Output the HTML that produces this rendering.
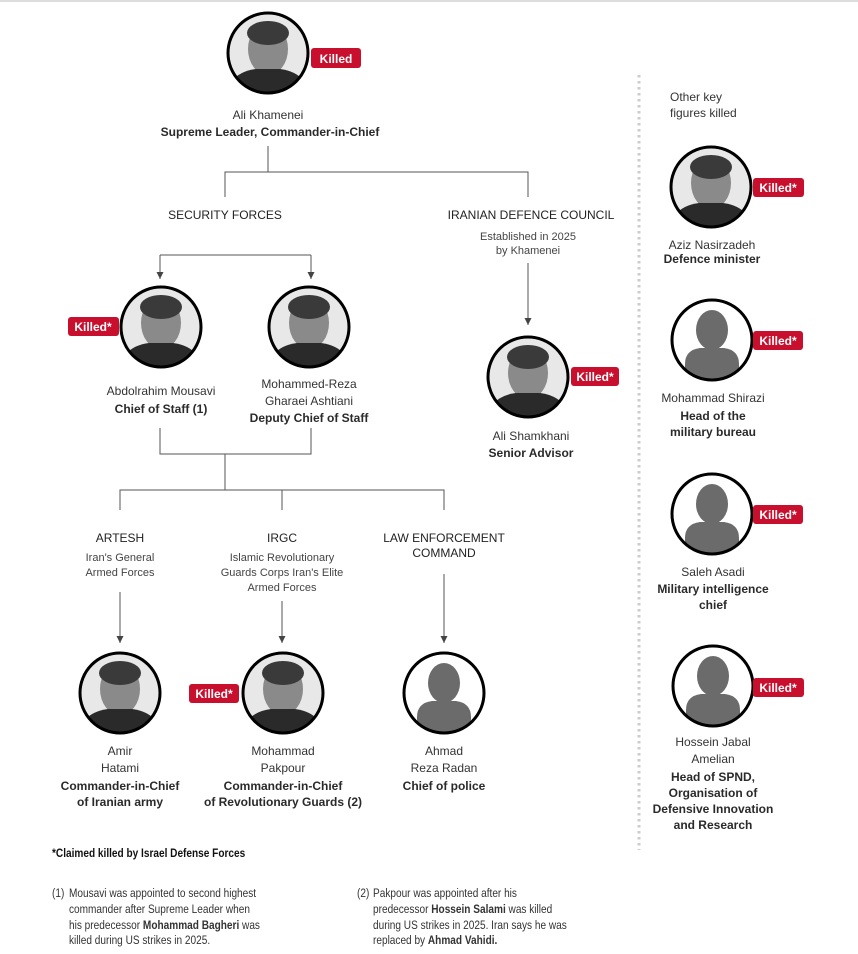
<!DOCTYPE html>
<html><head><meta charset="utf-8"><style>
html,body{margin:0;padding:0;background:#fff}
svg{display:block}
text{font-family:"Liberation Sans",sans-serif;font-size:12px;fill:#333}
.b{font-weight:bold;fill:#2a2a2a}
.h{fill:#222}
.s{font-size:11px;fill:#444}
.k{font-weight:bold;fill:#fff;font-size:12px}
.n{font-size:12px;fill:#333}
</style></head><body>
<svg width="858" height="954" viewBox="0 0 858 954" xmlns="http://www.w3.org/2000/svg">
<defs>
<clipPath id="cc"><circle cx="0" cy="0" r="39"/></clipPath>
<g id="sil"><circle r="40" fill="#fff"/><g clip-path="url(#cc)"><ellipse cx="0" cy="-10" rx="16" ry="20" fill="#6b6b6b"/><path d="M-27 40 L-27 24 Q-27 10 -12 8 L12 8 Q27 10 27 24 L27 40 Z" fill="#6b6b6b"/></g><circle r="40" fill="none" stroke="#000" stroke-width="3"/></g>
<g id="pho"><circle r="40" fill="#e8e8e8"/><g clip-path="url(#cc)"><ellipse cx="0" cy="-4" rx="20" ry="26" fill="#8a8a8a"/><ellipse cx="0" cy="-20" rx="21" ry="12" fill="#3a3a3a"/><path d="M-40 40 L-36 28 Q-28 18 -12 16 L12 16 Q28 18 36 28 L40 40 Z" fill="#2a2a2a"/></g><circle r="40" fill="none" stroke="#000" stroke-width="3"/></g>
<marker id="ar" markerWidth="8" markerHeight="8" refX="7" refY="3.5" orient="auto" markerUnits="userSpaceOnUse"><path d="M0 0 L7 3.5 L0 7 Z" fill="#444"/></marker>
</defs>
<line x1="0" y1="1" x2="858" y2="1" stroke="#ddd" stroke-width="2"/>

<g stroke="#555" stroke-width="1" fill="none">
<line x1="268" y1="146" x2="268" y2="172"/>
<polyline points="225,197 225,172 528,172 528,197"/>
<line x1="160" y1="255" x2="311" y2="255"/>
<line x1="160" y1="255" x2="160" y2="279" marker-end="url(#ar)"/>
<line x1="311" y1="255" x2="311" y2="279" marker-end="url(#ar)"/>
<line x1="528" y1="263" x2="528" y2="325" marker-end="url(#ar)"/>
<polyline points="160,428 160,454 311,454 311,428"/>
<line x1="225" y1="454" x2="225" y2="490"/>
<polyline points="120,510 120,490 444,490 444,510"/>
<line x1="282" y1="490" x2="282" y2="510"/>
<line x1="120" y1="592" x2="120" y2="643" marker-end="url(#ar)"/>
<line x1="282" y1="601" x2="282" y2="643" marker-end="url(#ar)"/>
<line x1="444" y1="574" x2="444" y2="643" marker-end="url(#ar)"/>
</g>
<line x1="639" y1="75" x2="639" y2="850" stroke="#ccc" stroke-width="3" stroke-dasharray="2.5 3.5"/>

<use href="#pho" x="268" y="53"/>
<rect x="311" y="48" width="50" height="20" rx="3" fill="#c8102e"/><text x="336" y="63" text-anchor="middle" class="k">Killed</text>
<text x="268" y="119" text-anchor="middle">Ali Khamenei</text>
<text x="270" y="136" text-anchor="middle" class="b">Supreme Leader, Commander-in-Chief</text>

<text x="225" y="219" text-anchor="middle" class="h">SECURITY FORCES</text>
<text x="531" y="219" text-anchor="middle" class="h">IRANIAN DEFENCE COUNCIL</text>
<text x="528" y="240" text-anchor="middle" class="s">Established in 2025</text>
<text x="528" y="254" text-anchor="middle" class="s">by Khamenei</text>

<use href="#pho" x="161" y="327"/>
<rect x="68" y="317" width="51" height="19" rx="3" fill="#c8102e"/><text x="93" y="331" text-anchor="middle" class="k">Killed*</text>
<text x="161" y="395" text-anchor="middle">Abdolrahim Mousavi</text>
<text x="161" y="413" text-anchor="middle" class="b">Chief of Staff (1)</text>
<use href="#pho" x="309" y="327"/>
<text x="309" y="388" text-anchor="middle">Mohammed-Reza</text>
<text x="309" y="405" text-anchor="middle">Gharaei Ashtiani</text>
<text x="309" y="422" text-anchor="middle" class="b">Deputy Chief of Staff</text>
<use href="#pho" x="528" y="377"/>
<rect x="571" y="367" width="48" height="19" rx="3" fill="#c8102e"/><text x="595" y="381" text-anchor="middle" class="k">Killed*</text>
<text x="531" y="440" text-anchor="middle">Ali Shamkhani</text>
<text x="531" y="457" text-anchor="middle" class="b">Senior Advisor</text>

<text x="120" y="542" text-anchor="middle" class="h">ARTESH</text>
<text x="120" y="561" text-anchor="middle" class="s">Iran's General</text>
<text x="120" y="576" text-anchor="middle" class="s">Armed Forces</text>
<text x="282" y="542" text-anchor="middle" class="h">IRGC</text>
<text x="282" y="561" text-anchor="middle" class="s">Islamic Revolutionary</text>
<text x="282" y="576" text-anchor="middle" class="s">Guards Corps Iran's Elite</text>
<text x="282" y="591" text-anchor="middle" class="s">Armed Forces</text>
<text x="444" y="542" text-anchor="middle" class="h">LAW ENFORCEMENT</text>
<text x="444" y="557" text-anchor="middle" class="h">COMMAND</text>

<use href="#pho" x="120" y="693"/>
<text x="120" y="755" text-anchor="middle">Amir</text>
<text x="120" y="772" text-anchor="middle">Hatami</text>
<text x="120" y="790" text-anchor="middle" class="b">Commander-in-Chief</text>
<text x="120" y="806" text-anchor="middle" class="b">of Iranian army</text>
<use href="#pho" x="283" y="693"/>
<rect x="189" y="684" width="50" height="19" rx="3" fill="#c8102e"/><text x="214" y="698" text-anchor="middle" class="k">Killed*</text>
<text x="283" y="755" text-anchor="middle">Mohammad</text>
<text x="283" y="772" text-anchor="middle">Pakpour</text>
<text x="283" y="790" text-anchor="middle" class="b">Commander-in-Chief</text>
<text x="283" y="806" text-anchor="middle" class="b">of Revolutionary Guards (2)</text>
<use href="#sil" x="444" y="693"/>
<text x="444" y="755" text-anchor="middle">Ahmad</text>
<text x="444" y="772" text-anchor="middle">Reza Radan</text>
<text x="444" y="790" text-anchor="middle" class="b">Chief of police</text>

<text x="670" y="101">Other key</text>
<text x="670" y="117">figures killed</text>
<use href="#pho" x="711" y="187"/>
<rect x="753" y="178" width="51" height="19" rx="3" fill="#c8102e"/><text x="778" y="192" text-anchor="middle" class="k">Killed*</text>
<text x="712" y="249" text-anchor="middle">Aziz Nasirzadeh</text>
<text x="712" y="263" text-anchor="middle" class="b">Defence minister</text>
<use href="#sil" x="712" y="340"/>
<rect x="753" y="331" width="50" height="19" rx="3" fill="#c8102e"/><text x="778" y="345" text-anchor="middle" class="k">Killed*</text>
<text x="713" y="402" text-anchor="middle">Mohammad Shirazi</text>
<text x="713" y="420" text-anchor="middle" class="b">Head of the</text>
<text x="713" y="436" text-anchor="middle" class="b">military bureau</text>
<use href="#sil" x="712" y="514"/>
<rect x="753" y="505" width="50" height="19" rx="3" fill="#c8102e"/><text x="778" y="519" text-anchor="middle" class="k">Killed*</text>
<text x="713" y="576" text-anchor="middle">Saleh Asadi</text>
<text x="713" y="593" text-anchor="middle" class="b">Military intelligence</text>
<text x="713" y="609" text-anchor="middle" class="b">chief</text>
<use href="#sil" x="713" y="686"/>
<rect x="753" y="678" width="51" height="19" rx="3" fill="#c8102e"/><text x="778" y="692" text-anchor="middle" class="k">Killed*</text>
<text x="713" y="746" text-anchor="middle">Hossein Jabal</text>
<text x="713" y="763" text-anchor="middle">Amelian</text>
<text x="713" y="781" text-anchor="middle" class="b">Head of SPND,</text>
<text x="713" y="797" text-anchor="middle" class="b">Organisation of</text>
<text x="713" y="813" text-anchor="middle" class="b">Defensive Innovation</text>
<text x="713" y="829" text-anchor="middle" class="b">and Research</text>

<g transform="translate(52,0) scale(0.84,1)">
<text x="0" y="857" class="n b" style="fill:#111">*Claimed killed by Israel Defense Forces</text>
<text x="0" y="897" class="n">(1)</text>
</g>
<g transform="translate(69,0) scale(0.84,1)">
<text x="0" y="897" class="n">Mousavi was appointed to second highest</text>
<text x="0" y="913" class="n">commander after Supreme Leader when</text>
<text x="0" y="929" class="n">his predecessor <tspan font-weight="bold">Mohammad Bagheri</tspan> was</text>
<text x="0" y="944" class="n">killed during US strikes in 2025.</text>
</g>
<g transform="translate(357,0) scale(0.84,1)">
<text x="0" y="897" class="n">(2)</text>
</g>
<g transform="translate(373,0) scale(0.84,1)">
<text x="0" y="897" class="n">Pakpour was appointed after his</text>
<text x="0" y="913" class="n">predecessor <tspan font-weight="bold">Hossein Salami</tspan> was killed</text>
<text x="0" y="929" class="n">during US strikes in 2025. Iran says he was</text>
<text x="0" y="944" class="n">replaced by <tspan font-weight="bold">Ahmad Vahidi.</tspan></text>
</g>
</svg>
</body></html>
